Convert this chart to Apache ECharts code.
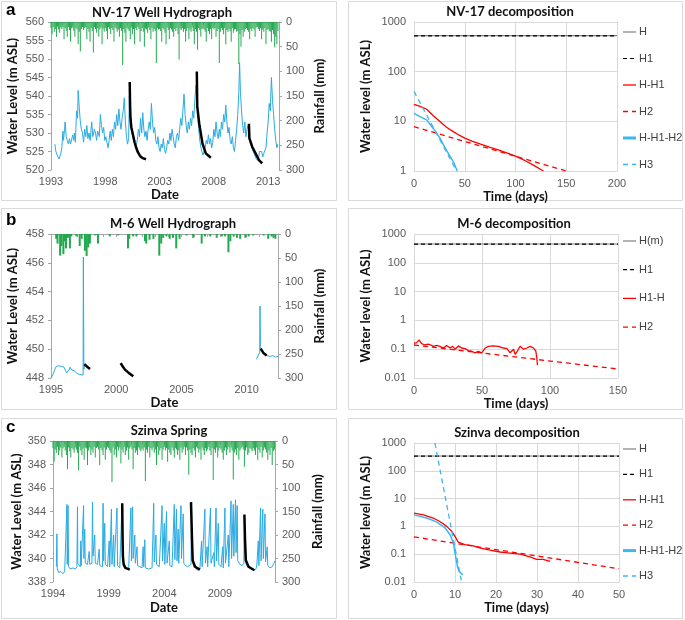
<!DOCTYPE html>
<html><head><meta charset="utf-8">
<script src="https://cdn.jsdelivr.net/npm/echarts@6/dist/echarts.min.js"></script>
<style>html,body{margin:0;padding:0;background:#fff}#c{width:685px;height:620px}</style>
</head><body><div id="c"></div>
<script>
// ---------- DATA ----------
// NV-17 rainfall (mm), 10 values per year, 1993.0 .. 2013.9
const nvRainStart = 1993;
const nvRain = [
12,25,10,20,14,30,9,15,22,11,
14,10,35,12,18,30,10,16,40,13,
11,18,30,12,15,45,20,60,14,10,
16,12,10,35,14,20,40,12,18,62,
10,14,22,12,30,15,11,45,13,20,
12,18,35,10,14,25,12,16,40,11,
13,20,15,30,12,18,87,14,22,40,
12,15,18,35,11,25,14,45,12,16,
10,14,40,18,12,20,50,13,15,22,
11,16,35,12,20,14,18,83,12,15,
14,18,40,12,15,22,45,11,16,35,
12,15,20,30,14,18,12,25,76,13,
16,12,20,14,40,18,12,35,15,20,
11,18,45,14,20,56,12,16,30,14,
13,15,20,40,12,18,25,14,35,12,
15,12,30,18,14,83,20,12,16,25,
12,45,16,20,14,18,40,12,22,15,
14,20,18,85,25,50,16,30,20,14,
12,16,20,35,14,18,12,15,30,11,
10,14,18,12,35,15,20,12,45,16,
14,18,20,40,16,25,51,30,45,18];
// NV-17 water level [year, m ASL]
const nvLevel = [[1993.35,527],[1993.45,525],[1993.6,523.8],[1993.75,523],[1993.9,524.5],[1994.0,526],[1994.1,530.5],[1994.15,528],[1994.25,531],[1994.3,533],[1994.4,529],[1994.5,528],[1994.6,527],[1994.7,528.5],[1994.8,527],[1994.9,526.5],[1995.0,529.5],[1995.1,528],[1995.15,530],[1995.25,527.5],[1995.35,536],[1995.45,534],[1995.5,541.5],[1995.6,537],[1995.7,533],[1995.8,531],[1995.9,530],[1996.0,527.5],[1996.1,531],[1996.2,529],[1996.3,532],[1996.4,528.5],[1996.5,530],[1996.6,528],[1996.75,533],[1996.85,529],[1997.0,531],[1997.1,530],[1997.2,528],[1997.3,530.5],[1997.45,529],[1997.55,535],[1997.65,532],[1997.75,530],[1997.85,531.5],[1997.95,528],[1998.05,529],[1998.15,527.5],[1998.25,526],[1998.35,528],[1998.45,530.5],[1998.55,528],[1998.65,531],[1998.75,529],[1998.85,533],[1998.95,531],[1999.05,535],[1999.15,532],[1999.25,536.5],[1999.35,533],[1999.45,531],[1999.55,534],[1999.65,536],[1999.75,539.5],[1999.85,533],[1999.95,529],[2000.05,527],[2000.15,528.5],[2000.22,540],[2000.3,535],[2000.4,531],[2000.6,528],[2000.8,526.5],[2000.95,528],[2001.05,531],[2001.15,529],[2001.25,534],[2001.35,530],[2001.45,535.5],[2001.55,531],[2001.65,529],[2001.75,530.5],[2001.85,528],[2001.95,531],[2002.05,533],[2002.15,531],[2002.25,538],[2002.35,533],[2002.45,530],[2002.55,531.5],[2002.65,528],[2002.75,527],[2002.85,529],[2002.95,526],[2003.05,525],[2003.15,527],[2003.25,526],[2003.35,528.5],[2003.45,525.5],[2003.55,524.5],[2003.65,526],[2003.75,528],[2003.85,527],[2003.95,530],[2004.05,528],[2004.15,531],[2004.25,529],[2004.35,527],[2004.45,526],[2004.55,529],[2004.65,530],[2004.75,528],[2004.85,531],[2004.95,534],[2005.05,532],[2005.15,536],[2005.25,540.5],[2005.35,535],[2005.45,532],[2005.55,530],[2005.65,533],[2005.75,531],[2005.85,534],[2005.95,532],[2006.05,536],[2006.15,534],[2006.25,539],[2006.35,543],[2006.45,540],[2006.55,533],[2006.7,528],[2006.85,525.5],[2007.0,524],[2007.1,523.5],[2007.2,526],[2007.3,528],[2007.4,527],[2007.5,529.5],[2007.6,527],[2007.7,528.5],[2007.8,526],[2007.9,527.5],[2008.0,531],[2008.1,529],[2008.2,533],[2008.3,530],[2008.4,528.5],[2008.5,531],[2008.6,529],[2008.7,533],[2008.8,531],[2008.9,535],[2009.0,533],[2009.1,537.5],[2009.2,533],[2009.3,530],[2009.4,531.5],[2009.5,528],[2009.6,527],[2009.7,529],[2009.8,526],[2009.9,525],[2010.0,528],[2010.1,531],[2010.2,535],[2010.3,541],[2010.37,549],[2010.45,541],[2010.55,536],[2010.65,532],[2010.75,530],[2010.85,533],[2010.95,529],[2011.05,531],[2011.15,532],[2011.3,528],[2011.5,526],[2011.7,524.5],[2011.9,523],[2012.1,522.5],[2012.2,525],[2012.3,524.5],[2012.4,525],[2012.5,523.5],[2012.6,524.5],[2012.7,524],[2012.8,526],[2012.9,530],[2013.0,533],[2013.1,538],[2013.2,536],[2013.3,545],[2013.4,539],[2013.5,535],[2013.6,531],[2013.7,528],[2013.8,526],[2013.9,527]];
const nvRec1 = [[2000.25,543.8],[2000.28,538],[2000.32,534],[2000.4,531.5],[2000.55,529.5],[2000.7,527.5],[2000.85,526],[2001.0,524.8],[2001.2,523.8],[2001.45,523.2],[2001.75,522.9]];
const nvRec2 = [[2006.43,546.6],[2006.47,537.2],[2006.65,532.6],[2006.95,527.2],[2007.26,524.5],[2007.72,523.3]];
const nvRec3 = [[2011.23,532.5],[2011.27,528.6],[2011.53,526.3],[2011.84,524.5],[2012.15,522.7],[2012.45,521.8]];

// M-6 rainfall
const m6RainYear = [1995.4,1995.5,1995.7,1995.8,1995.95,1996.05,1996.15,1996.3,1996.45,1996.55,1996.95,1997.2,1997.35,1997.6,1997.73,1997.85,1997.98,1998.4,1998.6,1999.5,2000.15,2000.9,2001.0,2001.3,2001.55,2002.2,2002.3,2002.55,2002.85,2003.3,2003.45,2003.6,2003.85,2004.1,2004.35,2004.6,2004.85,2005.4,2005.9,2006.55,2006.8,2007.2,2007.7,2008.1,2008.35,2008.6,2008.75,2009.0,2009.25,2009.5,2009.9,2010.15,2010.5,2011.3,2011.65,2011.9,2012.05,2012.2];
const m6RainMm   = [10,20,45,25,42,15,30,8,30,5,5,25,10,35,46,28,20,3,20,5,3,30,10,5,5,15,20,12,10,45,20,8,5,10,8,30,10,3,8,20,5,5,8,5,5,38,15,5,8,10,8,5,3,3,10,5,8,10];
const m6LevelA = [[1995.0,448.0],[1995.15,448.25],[1995.3,448.6],[1995.4,448.8],[1995.6,448.85],[1995.8,448.8],[1996.0,448.75],[1996.1,448.55],[1996.2,448.35],[1996.3,448.3],[1996.4,448.6],[1996.45,448.75],[1996.6,448.55],[1996.8,448.5],[1997.0,448.3],[1997.2,448.25],[1997.46,448.2],[1997.48,456.4],[1997.52,448.6],[1997.56,448.9]];
const m6LevelB = [[2010.75,449.3],[2010.9,449.4],[2011.0,449.8],[2011.02,453.0],[2011.05,450.2],[2011.2,449.8],[2011.4,449.6],[2011.6,449.55],[2011.8,449.5],[2012.0,449.55],[2012.2,449.45],[2012.4,449.5]];
const m6Rec1 = [[1997.56,448.97],[1997.75,448.8],[1997.99,448.63]];
const m6Rec2 = [[2000.34,449.04],[2000.5,448.8],[2000.67,448.58],[2001.0,448.32],[2001.31,448.12]];
const m6Rec3 = [[2011.07,450.04],[2011.28,449.74],[2011.53,449.57]];

// Szinva rainfall, 10 values per year, 1994.0 .. 2013.9
const szRainStart = 1994;
const szRain = [
15,44,18,25,12,30,20,14,35,16,
12,20,30,60,14,22,35,15,18,25,
14,18,25,62,12,20,30,16,40,14,
16,51,20,14,30,18,25,12,35,15,
12,18,51,15,20,30,14,40,18,12,
15,20,25,87,14,30,18,35,12,20,
14,48,18,25,12,30,20,14,40,16,
12,18,60,15,25,20,30,14,18,22,
16,20,14,85,18,25,12,35,15,20,
14,25,18,51,12,30,20,15,40,18,
12,20,15,44,18,25,30,14,20,35,
15,18,30,20,40,14,25,18,12,30,
14,20,72,18,25,30,15,20,35,12,
16,25,18,40,14,20,30,15,22,18,
12,20,30,15,83,18,25,14,35,20,
15,18,25,40,20,14,30,18,12,25,
14,20,82,25,18,30,15,40,20,16,
12,18,55,20,14,30,25,15,18,22,
15,20,30,14,40,18,25,12,35,20,
14,18,25,40,20,30,15,51,22,18];
const szLevel = [[1994.3,339.3],[1994.35,342.1],[1994.38,339.2],[1994.5,338.8],[1994.7,338.9],[1994.9,338.7],[1995.05,338.9],[1995.2,339.0],[1995.25,344.6],[1995.28,339.5],[1995.35,344.5],[1995.4,339.3],[1995.55,339.1],[1995.8,339.2],[1996.0,339.1],[1996.15,339.3],[1996.2,344.4],[1996.23,339.6],[1996.45,339.3],[1996.5,341.5],[1996.53,339.4],[1996.7,339.3],[1996.75,344.5],[1996.78,340.0],[1996.85,342.5],[1996.9,339.6],[1997.1,339.5],[1997.25,340.6],[1997.3,339.5],[1997.5,339.6],[1997.55,344.8],[1997.6,340.2],[1997.75,342.0],[1997.8,339.6],[1998.0,339.5],[1998.15,340.8],[1998.2,339.4],[1998.45,339.3],[1998.5,344.7],[1998.55,339.8],[1998.65,343.0],[1998.7,339.5],[1998.9,339.3],[1999.05,341.5],[1999.1,339.3],[1999.25,344.2],[1999.3,339.5],[1999.45,342.0],[1999.5,339.3],[1999.75,344.3],[1999.8,339.4],[2000.0,339.2],[2000.15,339.3],[2000.2,344.6],[2000.25,341],[2000.3,339.8],[2000.5,339.2],[2000.8,339.1],[2000.95,339.0],[2001.0,344.3],[2001.05,339.8],[2001.15,344.4],[2001.2,340.0],[2001.35,342.0],[2001.4,339.6],[2001.55,341.0],[2001.6,339.4],[2001.8,339.3],[2002.0,339.2],[2002.1,341.0],[2002.15,339.3],[2002.25,341.6],[2002.3,339.2],[2002.6,339.1],[2002.9,339.2],[2003.0,339.3],[2003.05,344.7],[2003.1,339.7],[2003.25,342.0],[2003.3,339.5],[2003.55,339.3],[2003.8,344.5],[2003.85,339.8],[2004.0,343.0],[2004.05,339.5],[2004.2,344.0],[2004.25,339.6],[2004.45,341.5],[2004.5,339.4],[2004.7,339.3],[2004.9,344.6],[2004.95,339.9],[2005.1,344.2],[2005.15,339.8],[2005.25,342.5],[2005.3,339.6],[2005.5,344.5],[2005.55,340.0],[2005.7,343.8],[2005.75,339.6],[2005.9,339.4],[2006.1,339.3],[2006.4,339.5],[2006.45,344.8],[2006.5,341.0],[2006.6,339.6],[2006.8,339.2],[2007.0,339.0],[2007.2,339.1],[2007.35,341.5],[2007.4,339.3],[2007.65,344.2],[2007.7,339.6],[2007.85,341.0],[2007.9,339.3],[2008.15,344.3],[2008.2,339.6],[2008.45,340.5],[2008.5,339.3],[2008.65,344.3],[2008.7,339.8],[2008.85,343.0],[2008.9,339.5],[2009.1,339.3],[2009.25,341.0],[2009.3,339.2],[2009.45,344.3],[2009.5,339.6],[2009.75,342.0],[2009.8,339.3],[2010.0,344.9],[2010.05,340.0],[2010.2,344.6],[2010.25,340.2],[2010.4,345.0],[2010.45,340.5],[2010.55,344.5],[2010.6,339.8],[2010.8,339.5],[2011.0,339.4],[2011.15,339.6],[2011.2,343.7],[2011.25,340.5],[2011.35,339.5],[2011.6,339.3],[2011.9,339.1],[2012.1,339.0],[2012.3,339.2],[2012.45,341.5],[2012.5,339.4],[2012.65,344.3],[2012.7,339.8],[2012.85,344.2],[2012.9,340.0],[2013.05,343.8],[2013.1,339.7],[2013.25,341.0],[2013.3,339.4],[2013.5,339.2],[2013.7,339.3],[2013.85,339.6],[2013.95,339.8]];
const szRec1 = [[2000.22,344.7],[2000.25,342],[2000.28,340.2],[2000.35,339.5],[2000.5,339.2],[2000.9,339.05]];
const szRec2 = [[2006.4,344.8],[2006.48,342],[2006.55,339.85],[2006.76,339.3],[2007.2,339.05]];
const szRec3 = [[2011.2,343.75],[2011.26,341.5],[2011.33,339.85],[2011.57,339.3],[2012.1,339.0]];

// Decomposition curves [days, m]
const nvH   = [[0,530],[200,530]];
const nvH1  = [[0,525],[200,525]];
const nvHH1 = [[0,22],[6,20],[12.5,17.5],[19,13],[25.6,9.9],[32,7.6],[38.7,6.2],[45,5.2],[50,4.6],[57,4],[65,3.5],[75,3.0],[83,2.66],[92,2.3],[100,2.0],[106,1.75],[111,1.55],[118,1.3],[127.5,1.0]];
const nvH2  = [[0,7.8],[150,1.0]];
const nvHH1H2 = [[0,14.5],[5.9,12.4],[12.5,10.7],[19,7.2],[25.6,4.6],[32,2.6],[38.7,1.55],[42.6,1.0]];
const nvH3  = [[0,40],[42,1]];

const m6Hm  = [[0,450],[150,450]];
const m6H1  = [[0,447],[150,447]];
const m6H1H = [[0,0.16],[2,0.17],[3.7,0.21],[5.6,0.155],[8,0.14],[10.6,0.15],[12.3,0.14],[14.2,0.126],[16.7,0.135],[19,0.126],[21.6,0.11],[24,0.135],[26.5,0.11],[28.5,0.126],[30.2,0.1],[32.6,0.13],[35,0.11],[37.5,0.105],[40,0.09],[42.4,0.085],[44.9,0.075],[47.3,0.085],[49.8,0.075],[52.3,0.11],[54.7,0.126],[58.4,0.13],[62,0.126],[65.8,0.11],[68.3,0.105],[70.7,0.075],[73.2,0.1],[74.4,0.066],[76,0.085],[78,0.126],[80.5,0.1],[83,0.11],[85.4,0.126],[86.6,0.135],[87.9,0.11],[89.6,0.085],[90.3,0.05],[90.8,0.028]];
const m6H2  = [[0,0.14],[150,0.0205]];

const szH   = [[0,340],[50,340]];
const szH1  = [[0,337],[50,337]];
const szHH1 = [[0,3.0],[2.3,2.6],[4.7,2.0],[6.3,1.5],[8,1.0],[9.2,0.66],[10,0.44],[10.8,0.27],[11.2,0.24],[12.4,0.22],[14.5,0.2],[16,0.17],[18.5,0.14],[21,0.12],[23.4,0.11],[25.9,0.1],[28.3,0.08],[29.9,0.065],[31.5,0.065],[33.2,0.055]];
const szH2  = [[0,0.42],[50,0.03]];
const szHH1H2 = [[0,2.6],[3.1,2.0],[5.5,1.45],[7.6,0.88],[8.8,0.5],[9.6,0.26],[10,0.11],[10.6,0.036],[11,0.024],[11.9,0.018]];
const szH3  = [[5.1,1000],[11.6,0.01]];

// legend labels for decomposition panels
const nvLegend = ['H','H1','H-H1','H2','H-H1-H2','H3'];
const m6Legend = ['H(m)','H1','H1-H','H2'];
const szLegend = ['H','H1','H-H1','H2','H-H1-H2','H3'];

// ---------- CHART ----------
const AX = '#a6a6a6', LBL = '#595959', GRIDC = '#d9d9d9';
const NAMEFONT = {fontFamily:'Lato', fontWeight:'bold', fontSize:13, color:'#111'};
const TICKFONT = {fontFamily:'Liberation Sans', fontSize:11, color:LBL};
const BLUE = '#29abe2', LBLUE = '#3ab6f0', RED = '#ff0000', GREEN = '#22a84e';
const STYLE = {
  'H':{c:'#808080', w:1.2}, 'H(m)':{c:'#808080', w:1.2}, 'H1':{c:'#000', w:1.2, d:[4,3]},
  'H-H1':{c:RED, w:1.3}, 'H1-H':{c:RED, w:1.3}, 'H2':{c:RED, w:1.3, d:[5,4]},
  'H-H1-H2':{c:LBLUE, w:1.5, lw:3}, 'H3':{c:LBLUE, w:1.3, d:[5,4]}
};

function hydroX(g, min, max, gap){
  return {type:'value', gridIndex:g, min:min, max:max, interval:1,
    name:'Date', nameLocation:'middle', nameGap:gap, nameTextStyle:NAMEFONT,
    axisLine:{lineStyle:{color:AX}}, axisTick:{length:3, lineStyle:{color:AX}},
    axisLabel:Object.assign({margin:6, formatter:function(v){const r=Math.round(v);return (Math.abs(v-r)<1e-6 && (r-min)%5===0)?String(r):'';}}, TICKFONT),
    splitLine:{show:false}};
}
function levelY(g, min, max, iv, gap){
  return {type:'value', gridIndex:g, min:min, max:max, interval:iv, position:'left',
    name:'Water Level (m ASL)', nameLocation:'middle', nameGap:gap, nameTextStyle:NAMEFONT,
    axisLine:{show:true, lineStyle:{color:AX}}, axisTick:{show:true, length:3, lineStyle:{color:AX}},
    axisLabel:Object.assign({margin:7}, TICKFONT), splitLine:{show:false}};
}
function rainY(g, gap){
  return {type:'value', gridIndex:g, min:0, max:300, interval:50, inverse:true, position:'right',
    name:'Rainfall (mm)', nameLocation:'middle', nameGap:gap, nameTextStyle:NAMEFONT,
    axisLine:{show:true, lineStyle:{color:AX}}, axisTick:{show:true, length:3, lineStyle:{color:AX}},
    axisLabel:Object.assign({margin:7}, TICKFONT), splitLine:{show:false}};
}
function decX(g, max, iv, gap){
  return {type:'value', gridIndex:g, min:0, max:max, interval:iv,
    name:'Time (days)', nameLocation:'middle', nameGap:gap, nameTextStyle:NAMEFONT,
    axisLine:{lineStyle:{color:GRIDC}}, axisTick:{show:false},
    axisLabel:Object.assign({margin:7}, TICKFONT), splitLine:{show:true, lineStyle:{color:GRIDC}}};
}
function logLabel(v){
  const e = Math.round(Math.log(v)/Math.LN10);
  return e >= 0 ? String(Math.round(Math.pow(10,e))) : Math.pow(10,e).toFixed(-e);
}
function decY(g, min, gap){
  return {type:'log', logBase:10, gridIndex:g, min:min, max:1000,
    name:'Water level (m ASL)', nameLocation:'middle', nameGap:gap, nameTextStyle:NAMEFONT,
    axisLine:{show:true, lineStyle:{color:GRIDC}}, axisTick:{show:false},
    axisLabel:Object.assign({margin:8, formatter:logLabel}, TICKFONT), splitLine:{show:true, lineStyle:{color:GRIDC}}};
}
function line(name, x, y, data, color, width, type, z){
  return {type:'line', name:name, xAxisIndex:x, yAxisIndex:y, data:data, symbol:'none', silent:true,
    lineStyle:{color:color, width:width, type:type||'solid'}, itemStyle:{color:color}, z:z||2, clip:true};
}
function dline(name, x, y, data){
  const s = STYLE[name];
  return line(name, x, y, data, s.c, s.w, s.d || 'solid');
}
function rainBars(name, x, y, start, vals, w){
  const d = vals.map(function(v,i){return [start + i/10, v];});
  return {type:'bar', name:name, xAxisIndex:x, yAxisIndex:y, data:d, barWidth:w, silent:true,
    itemStyle:{color:GREEN}, z:1};
}
function legendGraphics(names, x, y0, step){
  const out = [];
  names.forEach(function(n,i){
    const s = STYLE[n], y = y0 + i*step;
    out.push({type:'line', silent:true, shape:{x1:x, y1:y, x2:x+13, y2:y},
      style:{stroke:s.c, lineWidth:s.lw || s.w, lineDash:s.d || null}});
    out.push({type:'text', silent:true, x:x+16, y:y,
      style:{text:n, font:'11px "Liberation Sans"', fill:'#404040', verticalAlign:'middle'}});
  });
  return out;
}

const m6RainPairs = m6RainYear.map(function(t,i){return [t, m6RainMm[i]];});

const frames = [[1.5,1.5,335,199],[348.5,1.5,334,199],[1.5,208.5,335,201],[348.5,208.5,334,201],[1.5,418.5,335,200],[348.5,418.5,334,200]]
  .map(function(r){return {type:'rect', silent:true, shape:{x:r[0],y:r[1],width:r[2],height:r[3]}, style:{fill:'transparent', stroke:GRIDC, lineWidth:1}};});
function title(t, x, y){ return {type:'text', silent:true, x:x, y:y, style:{text:t, font:'bold 13px Lato', fill:'#111', align:'center', verticalAlign:'middle'}}; }
function letter(t, y){ return {type:'text', silent:true, x:6, y:y, style:{text:t, font:'bold 17px "Liberation Sans"', fill:'#000', verticalAlign:'middle'}}; }

const option = {
  animation:false, backgroundColor:'#fff',
  textStyle:{fontFamily:'Liberation Sans'},
  grid:[
    {left:51, top:22, width:228, height:148},
    {left:414, top:22, width:203, height:149},
    {left:51, top:234, width:227, height:144},
    {left:414, top:234, width:204, height:144},
    {left:53, top:441, width:222, height:141},
    {left:414, top:443, width:205, height:139}
  ],
  xAxis:[ hydroX(0,1993,2014,16), decX(1,200,50,16), hydroX(2,1995,2012.4,16), decX(3,150,50,16), hydroX(4,1994,2013.95,19), decX(5,50,10,19) ],
  yAxis:[ levelY(0,520,560,5,32), rainY(0,34), decY(1,1,42),
          levelY(2,448,458,2,32), rainY(2,35), decY(3,0.01,42),
          levelY(4,338,350,2,30), rainY(4,36), decY(5,0.01,42) ],
  series:[
    rainBars('nvRain',0,1,nvRainStart,nvRain,1),
    line('nvLevel',0,0,nvLevel,BLUE,1),
    line('nvRec1',0,0,nvRec1,'#000',2.5,'solid',3),
    line('nvRec2',0,0,nvRec2,'#000',2.5,'solid',3),
    line('nvRec3',0,0,nvRec3,'#000',2.5,'solid',3),

    dline('H',1,2,nvH), dline('H1',1,2,nvH1), dline('H-H1',1,2,nvHH1),
    dline('H2',1,2,nvH2), dline('H-H1-H2',1,2,nvHH1H2), dline('H3',1,2,nvH3),

    {type:'bar', name:'m6Rain', xAxisIndex:2, yAxisIndex:4, data:m6RainPairs, barWidth:2, silent:true, itemStyle:{color:GREEN}, z:1},
    line('m6LevelA',2,3,m6LevelA,BLUE,1),
    line('m6LevelB',2,3,m6LevelB,BLUE,1),
    line('m6Rec1',2,3,m6Rec1,'#000',2.5,'solid',3),
    line('m6Rec2',2,3,m6Rec2,'#000',2.5,'solid',3),
    line('m6Rec3',2,3,m6Rec3,'#000',2.5,'solid',3),

    dline('H(m)',3,5,m6Hm), dline('H1',3,5,m6H1), dline('H1-H',3,5,m6H1H), dline('H2',3,5,m6H2),

    rainBars('szRain',4,7,szRainStart,szRain,1),
    line('szLevel',4,6,szLevel,BLUE,1),
    line('szRec1',4,6,szRec1,'#000',2.5,'solid',3),
    line('szRec2',4,6,szRec2,'#000',2.5,'solid',3),
    line('szRec3',4,6,szRec3,'#000',2.5,'solid',3),

    dline('H',5,8,szH), dline('H1',5,8,szH1), dline('H-H1',5,8,szHH1),
    dline('H2',5,8,szH2), dline('H-H1-H2',5,8,szHH1H2), dline('H3',5,8,szH3)
  ],
  graphic: frames.concat([
    letter('a',10), letter('b',220), letter('c',427),
    title('NV-17 Well Hydrograph',162,13), title('NV-17 decomposition',510,12),
    title('M-6 Well Hydrograph',173,224), title('M-6 decomposition',514,224),
    title('Szinva Spring',169,431), title('Szinva decomposition',517,433)
  ], legendGraphics(nvLegend,623,32,26.5), legendGraphics(m6Legend,623,241,28.7), legendGraphics(szLegend,623,449,25.4))
};
const chart = echarts.init(document.getElementById('c'), null, {renderer:'canvas'});
chart.setOption(option);
</script></body></html>
